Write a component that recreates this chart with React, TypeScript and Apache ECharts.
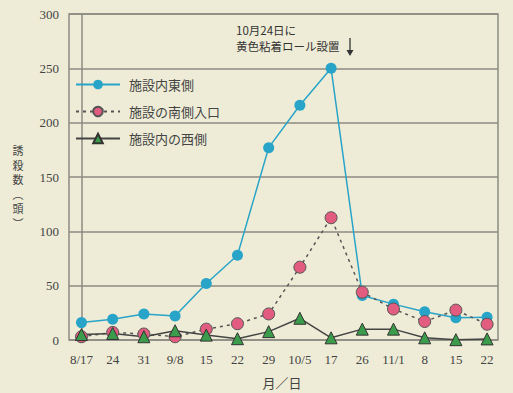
import React, { useEffect, useRef } from "react";
import * as echarts from "echarts";

const categories = ["8/17", "24", "31", "9/8", "15", "22", "29", "10/5", "17", "26", "11/1", "8", "15", "22"];
const eastValues = [16, 19, 24, 22, 52, 78, 177, 216, 250, 41, 33, 26, 20.5, 21];
const southValues = [3, 7, 5.5, 3, 10, 15, 24, 67, 112.5, 44, 28.5, 17, 27.5, 14.5];
const westValues = [5, 6, 3, 8.5, 4.5, 1.2, 7.7, 20, 2, 10, 10, 2, 0.3, 1];
const yTicks = [0, 50, 100, 150, 200, 250, 300];
const seriesNames = ["施設内東側", "施設の南側入口", "施設内の西側"];
const yAxisNameChars = ["誘", "殺", "数", "︵", "頭", "︶"];
const noteLines = ["10月24日に", "黄色粘着ロール設置"];

const toPairs = (arr: number[]) => arr.map((v, i) => [i, v]);

export default function App() {
  const ref = useRef<HTMLDivElement>(null);
  useEffect(() => {
    document.body.style.margin = "0";
    if (!ref.current) return;
    const chart = echarts.init(ref.current, undefined, { renderer: "svg" });
    const gray = "#8c8b82";
    const serif = "'Liberation Serif', 'DejaVu Serif', serif";
    const jp = "'Noto Sans CJK JP', sans-serif";
    chart.setOption({
      animation: false,
      backgroundColor: "#eeecd6",
      grid: {
        left: 69,
        right: 15,
        top: 14,
        bottom: 53,
        show: true,
        borderColor: gray,
        borderWidth: 1.5,
        backgroundColor: "transparent",
      },
      legend: {
        orient: "vertical",
        left: 70,
        top: 73,
        itemWidth: 44,
        itemHeight: 12,
        itemGap: 14,
        data: seriesNames,
        textStyle: { fontFamily: jp, fontSize: 13, color: "#444", padding: [0, 0, 0, 4] },
      },
      xAxis: {
        type: "value",
        min: -0.4,
        max: 13.35,
        splitLine: { show: false },
        axisLine: { show: false },
        axisTick: { show: false },
        axisLabel: {
          customValues: categories.map((_, i) => i),
          formatter: (v: number) => categories[Math.round(v)] ?? "",
          margin: 13,
          fontFamily: serif,
          fontSize: 13,
          color: "#444",
        },
      },
      yAxis: {
        type: "value",
        min: yTicks[0],
        max: yTicks[yTicks.length - 1],
        interval: 50,
        axisLine: { show: true, lineStyle: { color: gray, width: 1.5 } },
        axisTick: { show: false },
        splitLine: { lineStyle: { color: gray, width: 1.5 } },
        axisLabel: { margin: 10, fontFamily: serif, fontSize: 13, color: "#444" },
      },
      series: [
        {
          name: seriesNames[0],
          type: "line",
          data: toPairs(eastValues),
          symbol: "circle",
          symbolSize: 11,
          itemStyle: { color: "#29a4c9" },
          lineStyle: { color: "#29a4c9", width: 1.5 },
        },
        {
          name: seriesNames[1],
          type: "line",
          data: toPairs(southValues),
          symbol: "circle",
          symbolSize: 12,
          itemStyle: { color: "#e25c80", borderColor: "#555", borderWidth: 1 },
          lineStyle: { color: "#555", width: 1.5, type: [3, 4] },
        },
        {
          name: seriesNames[2],
          type: "line",
          data: toPairs(westValues),
          symbol: "triangle",
          symbolSize: 12,
          itemStyle: { color: "#3b9c4c", borderColor: "#333", borderWidth: 1 },
          lineStyle: { color: "#444", width: 1.5 },
        },
      ],
      graphic: [
        ...noteLines.map((t, i) => ({
          type: "text",
          x: 236,
          y: 30 + i * 16,
          style: {
            text: t,
            fontFamily: jp,
            fontSize: 11.5,
            fill: "#333",
            align: "left",
            verticalAlign: "middle",
          },
        })),
        { type: "line", shape: { x1: 350, y1: 38, x2: 350, y2: 51 }, style: { stroke: "#333", lineWidth: 1.3 } },
        { type: "polygon", shape: { points: [[346.5, 50], [353.5, 50], [350, 56]] }, style: { fill: "#333" } },
        ...yAxisNameChars.map((ch, i) => ({
          type: "text",
          x: 18,
          y: 150 + i * 14.5,
          style: {
            text: ch,
            fontFamily: jp,
            fontSize: 11,
            fill: "#444",
            align: "center",
            verticalAlign: "middle",
          },
        })),
        {
          type: "text",
          x: 282,
          y: 382,
          style: {
            text: "月／日",
            fontFamily: jp,
            fontSize: 13,
            fill: "#444",
            align: "center",
            verticalAlign: "middle",
          },
        },
      ],
    });
    return () => chart.dispose();
  }, []);
  return <div ref={ref} style={{ width: 513, height: 393 }} />;
}
